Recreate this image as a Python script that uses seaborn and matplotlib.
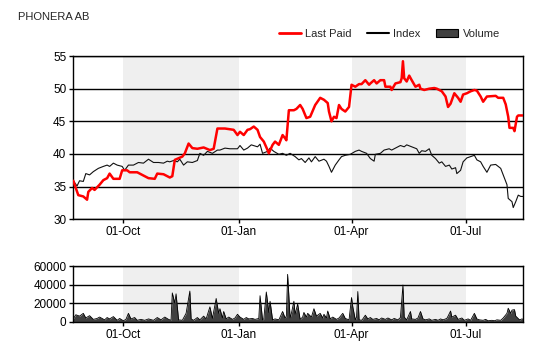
import pandas as pd
import matplotlib
matplotlib.use("Agg")
import matplotlib.pyplot as plt
import matplotlib.dates as mdates
from matplotlib.lines import Line2D
from matplotlib.patches import Patch
import seaborn as sns

sns.set_style("white")
plt.rcParams['font.family'] = ['Liberation Sans', 'DejaVu Sans']

# Last Paid (red)
paid_dates = ["2014-08-22", "2014-08-26", "2014-08-30", "2014-09-02", "2014-09-03", "2014-09-06", "2014-09-08",
              "2014-09-12", "2014-09-15", "2014-09-18", "2014-09-20", "2014-09-23", "2014-09-28", "2014-09-30",
              "2014-10-04", "2014-10-06", "2014-10-12", "2014-10-21", "2014-10-26", "2014-10-28", "2014-11-02",
              "2014-11-07", "2014-11-09", "2014-11-11", "2014-11-17", "2014-11-19", "2014-11-22", "2014-11-25",
              "2014-11-29", "2014-12-04", "2014-12-09", "2014-12-12", "2014-12-15", "2014-12-21", "2014-12-28",
              "2014-12-31", "2015-01-02", "2015-01-05", "2015-01-08", "2015-01-10", "2015-01-13", "2015-01-16",
              "2015-01-18", "2015-01-21", "2015-01-24", "2015-01-25", "2015-01-28", "2015-01-30", "2015-02-02",
              "2015-02-05", "2015-02-07", "2015-02-08", "2015-02-10", "2015-02-14", "2015-02-16", "2015-02-19",
              "2015-02-21", "2015-02-24", "2015-02-27", "2015-03-03", "2015-03-07", "2015-03-10", "2015-03-13",
              "2015-03-14", "2015-03-16", "2015-03-18", "2015-03-20", "2015-03-22", "2015-03-24", "2015-03-27",
              "2015-03-30", "2015-04-01", "2015-04-04", "2015-04-07", "2015-04-09", "2015-04-12", "2015-04-15",
              "2015-04-16", "2015-04-19", "2015-04-21", "2015-04-24", "2015-04-27", "2015-04-28", "2015-05-02",
              "2015-05-03", "2015-05-06", "2015-05-10", "2015-05-11", "2015-05-12", "2015-05-13", "2015-05-15",
              "2015-05-17", "2015-05-19", "2015-05-22", "2015-05-25", "2015-05-26", "2015-05-29", "2015-06-02",
              "2015-06-06", "2015-06-08", "2015-06-12", "2015-06-15", "2015-06-17", "2015-06-19", "2015-06-22",
              "2015-06-25", "2015-06-27", "2015-06-29", "2015-07-02", "2015-07-05", "2015-07-08", "2015-07-10",
              "2015-07-13", "2015-07-15", "2015-07-18", "2015-07-25", "2015-07-27", "2015-07-31", "2015-08-02",
              "2015-08-04", "2015-08-05", "2015-08-08", "2015-08-09", "2015-08-11", "2015-08-12", "2015-08-16"]
paid = [35.9, 33.7, 33.5, 33.0, 34.2, 34.8, 34.5,
        35.3, 36.0, 36.3, 37.0, 36.2, 36.2, 37.5,
        37.5, 37.2, 37.2, 36.3, 36.2, 37.0, 36.9,
        36.4, 36.6, 39.1, 39.6, 40.1, 41.6, 40.9,
        40.8, 41.0, 40.6, 40.8, 43.9, 43.9, 43.7,
        42.9, 43.4, 42.9, 43.7, 43.8, 44.2, 43.7,
        42.6, 41.9, 40.6, 40.1, 41.4, 41.9, 41.4,
        42.9, 42.4, 42.1, 46.7, 46.7, 46.9, 47.5,
        46.9, 45.5, 45.7, 47.5, 48.6, 48.3, 47.8,
        46.5, 45.0, 45.7, 45.5, 47.5, 46.9, 46.5,
        47.2, 50.6, 50.3, 50.7, 50.7, 51.3, 50.6,
        50.8, 51.3, 50.8, 51.3, 51.3, 50.3, 50.3,
        49.8, 50.8, 51.0, 51.6, 54.2, 51.6, 51.1,
        52.0, 51.3, 50.3, 50.6, 50.0, 49.8, 50.0,
        50.1, 50.0, 49.6, 48.8, 47.2, 47.7, 49.3,
        48.6, 48.0, 49.1, 49.3, 49.6, 49.8, 49.7,
        48.8, 48.0, 48.8, 48.9, 48.6, 48.6, 47.6,
        45.7, 44.0, 44.0, 43.5, 45.7, 45.9, 45.9]

# Index (black)
index_dates = ["2014-08-22", "2014-08-25", "2014-08-27", "2014-08-30", "2014-09-01", "2014-09-04", "2014-09-07",
               "2014-09-11", "2014-09-15", "2014-09-18", "2014-09-20", "2014-09-23", "2014-09-26", "2014-09-30",
               "2014-10-02", "2014-10-05", "2014-10-09", "2014-10-13", "2014-10-17", "2014-10-21", "2014-10-25",
               "2014-10-29", "2014-11-02", "2014-11-05", "2014-11-07", "2014-11-10", "2014-11-13", "2014-11-15",
               "2014-11-18", "2014-11-21", "2014-11-25", "2014-11-29", "2014-12-01", "2014-12-04", "2014-12-07",
               "2014-12-11", "2014-12-15", "2014-12-17", "2014-12-21", "2014-12-25", "2014-12-31", "2015-01-02",
               "2015-01-05", "2015-01-08", "2015-01-11", "2015-01-16", "2015-01-18", "2015-01-20", "2015-01-24",
               "2015-01-26", "2015-01-29", "2015-02-02", "2015-02-05", "2015-02-08", "2015-02-11", "2015-02-15",
               "2015-02-18", "2015-02-20", "2015-02-23", "2015-02-26", "2015-02-28", "2015-03-03", "2015-03-06",
               "2015-03-10", "2015-03-12", "2015-03-14", "2015-03-16", "2015-03-19", "2015-03-22", "2015-03-24",
               "2015-03-27", "2015-03-31", "2015-04-04", "2015-04-07", "2015-04-09", "2015-04-13", "2015-04-16",
               "2015-04-19", "2015-04-20", "2015-04-24", "2015-04-27", "2015-05-01", "2015-05-03", "2015-05-06",
               "2015-05-10", "2015-05-13", "2015-05-15", "2015-05-19", "2015-05-23", "2015-05-25", "2015-05-27",
               "2015-05-30", "2015-06-02", "2015-06-04", "2015-06-07", "2015-06-10", "2015-06-12", "2015-06-15",
               "2015-06-18", "2015-06-20", "2015-06-23", "2015-06-24", "2015-06-27", "2015-06-29", "2015-07-02",
               "2015-07-05", "2015-07-08", "2015-07-10", "2015-07-13", "2015-07-15", "2015-07-18", "2015-07-21",
               "2015-07-25", "2015-07-29", "2015-07-31", "2015-08-03", "2015-08-04", "2015-08-07", "2015-08-08",
               "2015-08-10", "2015-08-12", "2015-08-14", "2015-08-16"]
index_vals = [35.9, 35.1, 35.9, 35.8, 37.0, 36.8, 37.3,
              37.8, 38.1, 38.3, 38.1, 38.6, 38.3, 38.1,
              37.5, 38.3, 38.3, 38.7, 38.6, 39.2, 38.7,
              38.7, 38.6, 38.9, 38.8, 39.0, 38.8, 39.2,
              38.3, 38.8, 38.7, 39.0, 40.1, 39.8, 40.4,
              40.1, 40.6, 40.6, 40.9, 40.8, 40.8, 41.3,
              40.6, 40.9, 41.4, 41.1, 41.5, 40.1, 40.4,
              40.9, 40.4, 39.95, 40.1, 39.8, 40.1, 39.6,
              39.1, 39.3, 38.7, 39.4, 38.8, 39.6, 38.9,
              39.2, 38.9, 38.1, 37.2, 38.3, 39.1, 39.6,
              39.8, 39.95, 40.4, 40.6, 40.4, 40.1, 39.3,
              38.9, 39.95, 40.1, 40.6, 40.8, 40.6, 40.9,
              41.3, 41.1, 41.4, 41.1, 40.8, 40.1, 40.5,
              40.4, 40.8, 39.8, 39.3, 38.6, 38.8, 38.1,
              38.3, 37.7, 37.9, 37.0, 37.5, 38.8, 39.4,
              39.6, 39.8, 39.1, 38.8, 38.1, 37.2, 38.3,
              38.4, 37.8, 36.8, 35.3, 33.2, 32.7, 31.8,
              32.7, 33.7, 33.5, 33.5]

# Volume
vol_dates = ["2014-08-22", "2014-08-24", "2014-08-27", "2014-08-30", "2014-09-01", "2014-09-04", "2014-09-07",
             "2014-09-10", "2014-09-12", "2014-09-16", "2014-09-18", "2014-09-20", "2014-09-23", "2014-09-26",
             "2014-09-28", "2014-10-01", "2014-10-03", "2014-10-05", "2014-10-07", "2014-10-10", "2014-10-12",
             "2014-10-15", "2014-10-18", "2014-10-21", "2014-10-25", "2014-10-28", "2014-10-31", "2014-11-03",
             "2014-11-06", "2014-11-08", "2014-11-09", "2014-11-11", "2014-11-12", "2014-11-14", "2014-11-17",
             "2014-11-20", "2014-11-23", "2014-11-24", "2014-11-26", "2014-11-29", "2014-12-01", "2014-12-04",
             "2014-12-06", "2014-12-09", "2014-12-11", "2014-12-14", "2014-12-16", "2014-12-17", "2014-12-19",
             "2014-12-20", "2014-12-22", "2014-12-24", "2014-12-27", "2014-12-29", "2014-12-31", "2015-01-02",
             "2015-01-05", "2015-01-07", "2015-01-09", "2015-01-12", "2015-01-14", "2015-01-17", "2015-01-18",
             "2015-01-20", "2015-01-21", "2015-01-23", "2015-01-25", "2015-01-26", "2015-01-28", "2015-01-30",
             "2015-02-02", "2015-02-05", "2015-02-07", "2015-02-08", "2015-02-09", "2015-02-11", "2015-02-12",
             "2015-02-14", "2015-02-15", "2015-02-17", "2015-02-19", "2015-02-21", "2015-02-22", "2015-02-24",
             "2015-02-25", "2015-02-28", "2015-03-02", "2015-03-04", "2015-03-07", "2015-03-09", "2015-03-10",
             "2015-03-12", "2015-03-13", "2015-03-15", "2015-03-17", "2015-03-20", "2015-03-22", "2015-03-25",
             "2015-03-27", "2015-03-30", "2015-03-31", "2015-04-01", "2015-04-02", "2015-04-04", "2015-04-05",
             "2015-04-06", "2015-04-07", "2015-04-09", "2015-04-10", "2015-04-12", "2015-04-14", "2015-04-16",
             "2015-04-18", "2015-04-21", "2015-04-23", "2015-04-25", "2015-04-28", "2015-04-30", "2015-05-03",
             "2015-05-05", "2015-05-08", "2015-05-10", "2015-05-12", "2015-05-13", "2015-05-15", "2015-05-16",
             "2015-05-18", "2015-05-19", "2015-05-22", "2015-05-24", "2015-05-26", "2015-05-28", "2015-05-30",
             "2015-06-02", "2015-06-04", "2015-06-07", "2015-06-09", "2015-06-11", "2015-06-13", "2015-06-16",
             "2015-06-17", "2015-06-19", "2015-06-20", "2015-06-23", "2015-06-25", "2015-06-28", "2015-06-30",
             "2015-07-03", "2015-07-05", "2015-07-08", "2015-07-10", "2015-07-12", "2015-07-15", "2015-07-17",
             "2015-07-19", "2015-07-22", "2015-07-24", "2015-07-26", "2015-07-29", "2015-07-31", "2015-08-03",
             "2015-08-04", "2015-08-06", "2015-08-07", "2015-08-09", "2015-08-10", "2015-08-13", "2015-08-15",
             "2015-08-16"]
volume = [3000, 7500, 6000, 9000, 4000, 6500, 2500,
          3500, 5000, 2000, 4500, 3000, 5500, 1500,
          3500, 1000, 2500, 9000, 3000, 4500, 1500,
          2500, 1500, 3000, 1500, 4500, 2000, 5000,
          2500, 1500, 31000, 20000, 30000, 2000, 1500,
          9000, 33000, 3000, 1500, 4500, 2000, 6000,
          3000, 16000, 3500, 25000, 9000, 14000, 4000,
          11000, 3000, 5000, 2500, 4000, 8000, 5000,
          2500, 4500, 3000, 3500, 2500, 3500, 28000,
          2000, 3000, 32000, 10000, 22000, 2000, 3000,
          2000, 11000, 4000, 6000, 51000, 4000, 9000,
          22000, 8000, 19000, 2500, 5000, 10000, 5000,
          9000, 5000, 14000, 6000, 9000, 4000, 8000,
          4000, 11500, 3000, 5000, 2500, 4000, 9000,
          3500, 2000, 14000, 26000, 16000, 2000, 5000,
          32500, 2000, 1500, 3000, 7000, 3000, 4500,
          2500, 3500, 2000, 4000, 2500, 4000, 2000,
          3500, 2000, 4500, 39500, 5000, 2000, 5000,
          11000, 3000, 2500, 4000, 11000, 3000, 2000,
          3000, 1500, 2500, 1500, 3000, 2000, 3500,
          6000, 11500, 5000, 7000, 2500, 4000, 1500,
          3000, 1500, 9000, 3000, 2000, 1500, 2500,
          1000, 1500, 1000, 2000, 1500, 4000, 9000,
          14500, 9000, 12500, 13000, 6000, 2000, 3000,
          2500]

shade_starts = ["2014-10-01", "2015-04-01"]
shade_ends = ["2015-01-01", "2015-07-01"]
month_ticks = ["2014-10-01", "2015-01-01", "2015-04-01", "2015-07-01"]
x_start, x_end = "2014-08-22", "2015-08-16"

price_ticks = [30, 35, 40, 45, 50, 55]
volume_ticks = [0, 20000, 40000, 60000]

paid_df = pd.DataFrame({"date": pd.to_datetime(paid_dates), "value": paid})
index_df = pd.DataFrame({"date": pd.to_datetime(index_dates), "value": index_vals})
vol_df = pd.DataFrame({"date": pd.to_datetime(vol_dates), "volume": volume})

fig = plt.figure(figsize=(5.4, 3.6), dpi=100)
ax = fig.add_axes([0.1357, 0.3908, 0.8333, 0.4536])
ax2 = fig.add_axes([0.1357, 0.1064, 0.8333, 0.1547])

for a in (ax, ax2):
    for s, e in zip(shade_starts, shade_ends):
        a.axvspan(pd.Timestamp(s), pd.Timestamp(e), color="#efefef", lw=0, zorder=0)
    a.set_xlim(pd.Timestamp(x_start), pd.Timestamp(x_end))
    a.set_xticks(pd.to_datetime(month_ticks))
    a.xaxis.set_major_formatter(mdates.DateFormatter("%d-%b"))
    a.yaxis.grid(True, color="black", lw=1, zorder=1)
    a.xaxis.grid(False)
    a.set_axisbelow(True)
    for sp in a.spines.values():
        sp.set_color("black")
        sp.set_linewidth(1)
    a.tick_params(axis="both", direction="out", length=3, width=1, colors="black",
                  labelsize=8.5, bottom=True, left=True, pad=2)

# price panel
sns.lineplot(data=index_df, x="date", y="value", ax=ax, color="#111111", lw=0.8, zorder=3)
sns.lineplot(data=paid_df, x="date", y="value", ax=ax, color="#ff0000", lw=1.8, zorder=4)
ax.set_ylim(30, 55)
ax.set_yticks(price_ticks)
ax.set_xlabel("")
ax.set_ylabel("")

# volume panel
ax2.fill_between(vol_df["date"], vol_df["volume"], color="#404040", lw=0, zorder=2)
sns.lineplot(data=vol_df, x="date", y="volume", ax=ax2, color="black", lw=0.6, zorder=3)
ax2.set_ylim(0, 60000)
ax2.set_yticks(volume_ticks)
ax2.set_xlabel("")
ax2.set_ylabel("")

fig.text(18 / 540, 1 - 17 / 360, "PHONERA AB", fontsize=8, ha="left", va="center")

handles = [Line2D([], [], color="#ff0000", lw=2),
           Line2D([], [], color="black", lw=1.5),
           Patch(facecolor="#404040", edgecolor="black", lw=0.8)]
fig.legend(handles, ["Last Paid", "Index", "Volume"], loc="center right",
           bbox_to_anchor=(0.944, 0.905), ncol=3, frameon=False, fontsize=8,
           handlelength=2.0, handletextpad=0.4, columnspacing=1.35)

fig.savefig("out.png", dpi=100)
